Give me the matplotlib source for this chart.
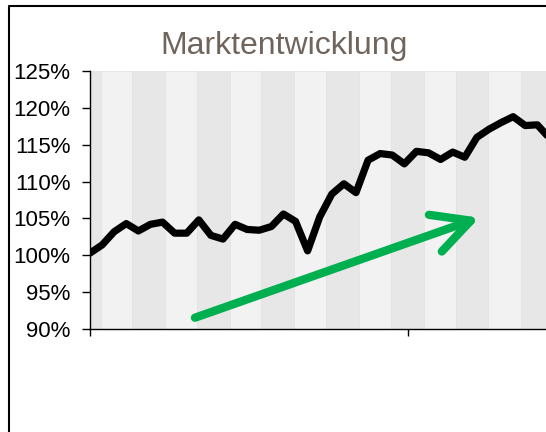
import matplotlib.pyplot as plt
from matplotlib.lines import Line2D
from matplotlib.patches import FancyArrowPatch

plt.rcParams['font.family'] = ['Liberation Sans', 'DejaVu Sans']

# Marktentwicklung in Prozent (Startwert ~100 %)
werte = [100.3, 101.4, 103.2, 104.3, 103.3, 104.2, 104.5, 103.0, 103.0, 104.8,
         102.7, 102.2, 104.2, 103.5, 103.4, 103.9, 105.6, 104.6, 100.6, 105.2,
         108.3, 109.7, 108.5, 112.9, 113.8, 113.6, 112.4, 114.1, 113.9, 113.0,
         114.0, 113.3, 116.0, 117.1, 118.0, 118.8, 117.6, 117.7, 115.9]
y_ticks = [90, 95, 100, 105, 110, 115, 120, 125]
y_labels = ['90%', '95%', '100%', '105%', '110%', '115%', '120%', '125%']
x_ticks = [0, 26.3]

# Hintergrundstreifen (Grenzen in Punkt-Einheiten)
streifen = [-1.8, 0.91, 3.45, 6.20, 8.83, 11.58, 14.14, 16.87, 19.52, 22.25,
            24.90, 27.63, 30.27, 32.92, 35.65, 38.3]

fig = plt.figure(figsize=(5.46, 4.32), dpi=100)
ax = fig.add_axes([90 / 546, 1 - 329 / 432, 456 / 546, 258 / 432])

for i in range(len(streifen) - 1):
    farbe = '#e7e7e7' if i % 2 == 0 else '#f2f2f2'
    ax.axvspan(streifen[i], streifen[i + 1], facecolor=farbe,
               edgecolor='#e2e2e2', linewidth=0.5, zorder=0)

x = list(range(len(werte)))
ax.plot(x, werte, color='black', linewidth=5.2, solid_joinstyle='round',
        solid_capstyle='round', zorder=3)

pfeil = FancyArrowPatch((8.68, 91.53), (32.2, 105.1),
                        arrowstyle='->,head_length=27,head_width=14',
                        color='#00b050', linewidth=6, capstyle='round',
                        joinstyle='round', shrinkA=0, shrinkB=0, zorder=4)
ax.add_patch(pfeil)

ax.set_xlim(0, 456 / 12.09)
ax.set_ylim(90, 125)
ax.set_yticks(y_ticks)
ax.set_yticklabels(y_labels, fontsize=16)
ax.set_xticks(x_ticks)
ax.set_xticklabels([])
ax.tick_params(axis='y', length=6, width=1, pad=8)
ax.tick_params(axis='x', length=5, width=1)
for s in ['top', 'right']:
    ax.spines[s].set_visible(False)
ax.spines['left'].set_linewidth(1)
ax.spines['bottom'].set_linewidth(1)

fig.text(284 / 546, 1 - 54 / 432, 'Marktentwicklung', ha='center',
         va='baseline', fontsize=23, color='#6f655d')

# Rahmen links und oben
fig.add_artist(Line2D([9 / 546, 9 / 546, 1.01], [-0.01, 1 - 6 / 432, 1 - 6 / 432],
                      transform=fig.transFigure, color='black', linewidth=1.5))

fig.savefig('out.png', dpi=100)
